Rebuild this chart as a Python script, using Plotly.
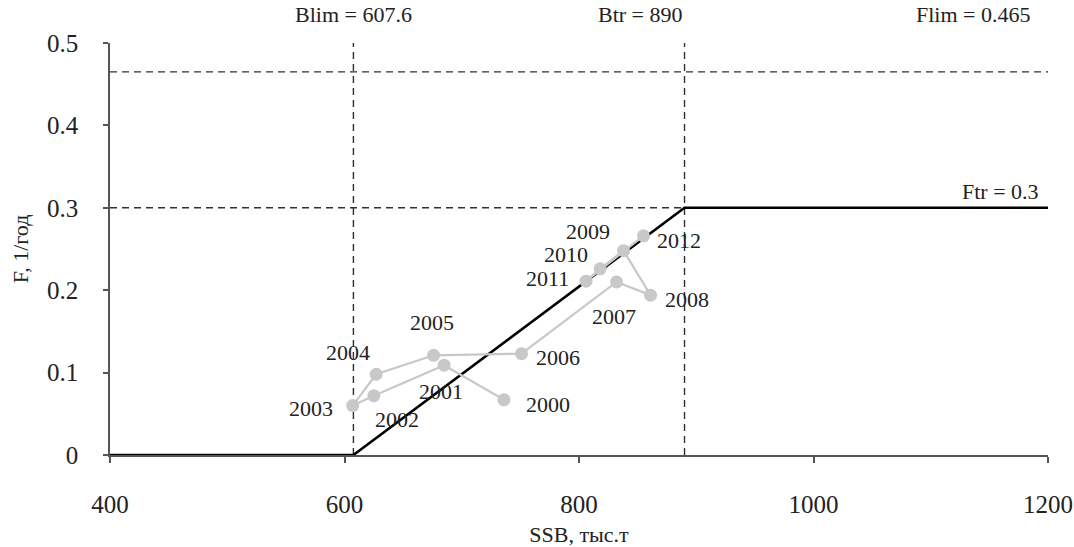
import plotly.graph_objects as go

# Stock dynamics: spawning stock biomass vs fishing mortality
years = [2000, 2001, 2002, 2003, 2004, 2005, 2006, 2007, 2008, 2009, 2010, 2011, 2012]
ssb = [736, 685, 625, 607, 627, 676, 751, 832, 861, 838, 818, 806, 855]
f_mort = [0.067, 0.109, 0.072, 0.060, 0.098, 0.121, 0.123, 0.210, 0.194, 0.248, 0.226, 0.211, 0.266]

# Reference points
b_lim = 607.6
b_tr = 890
f_lim = 0.465
f_tr = 0.3

# Harvest control rule
hcr_x = [400, b_lim, b_tr, 1200]
hcr_y = [0, 0, f_tr, f_tr]

x_ticks = [400, 600, 800, 1000, 1200]
y_ticks = [0, 0.1, 0.2, 0.3, 0.4, 0.5]

# Label placement around each year marker (pixels, x right / y up)
label_offsets = {
    2000: (44, -5), 2001: (-3, -26), 2002: (23, -24), 2003: (-42, -3),
    2004: (-28, 22), 2005: (-2, 33), 2006: (36, -4), 2007: (-3, -35),
    2008: (36, -4), 2009: (-36, 19), 2010: (-34, 14), 2011: (-39, 3),
    2012: (36, -5),
}

SERIF = "Liberation Serif"
DASH_COLOR = "#303030"
DASH = "7px,5px"

fig = go.Figure()

# Dashed reference lines
for xs, ys in [([400, 1200], [f_lim, f_lim]), ([400, b_tr], [f_tr, f_tr]),
               ([b_lim, b_lim], [0, 0.5]), ([b_tr, b_tr], [0, 0.5])]:
    fig.add_trace(go.Scatter(x=xs, y=ys, mode="lines",
                             line=dict(color=DASH_COLOR, width=1.4, dash=DASH),
                             hoverinfo="skip", showlegend=False))

# Control rule
fig.add_trace(go.Scatter(x=hcr_x, y=hcr_y, mode="lines",
                         line=dict(color="black", width=2.6),
                         hoverinfo="skip", showlegend=False))

# Stock trajectory
fig.add_trace(go.Scatter(x=ssb, y=f_mort, mode="lines+markers",
                         line=dict(color="#c8c8c8", width=2.2),
                         marker=dict(color="#c8c8c8", size=13),
                         showlegend=False))

annotations = []
for yr, xv, yv in zip(years, ssb, f_mort):
    dx, dy = label_offsets[yr]
    annotations.append(dict(x=xv, y=yv, xref="x", yref="y", text=str(yr),
                            showarrow=False, xshift=dx, yshift=dy,
                            font=dict(family=SERIF, size=22, color="#222")))

ref_font = dict(family=SERIF, size=22, color="#222")
annotations += [
    dict(x=b_lim, y=1, xref="x", yref="paper", yshift=29, text=f"Blim = {b_lim}",
         showarrow=False, xanchor="center", yanchor="middle", font=ref_font),
    dict(x=b_tr, y=1, xref="x", yref="paper", yshift=29, text=f"Btr = {b_tr}",
         showarrow=False, xanchor="right", yanchor="middle", font=ref_font),
    dict(x=1, y=1, xref="paper", yref="paper", xshift=-16, yshift=29, text=f"Flim = {f_lim}",
         showarrow=False, xanchor="right", yanchor="middle", font=ref_font),
    dict(x=1, y=0.32, xref="paper", yref="y", xshift=-7, text=f"Ftr = {f_tr}",
         showarrow=False, xanchor="right", yanchor="middle", font=ref_font),
]

fig.update_layout(
    width=1074, height=547,
    margin=dict(l=110, r=26, t=43, b=92),
    paper_bgcolor="white", plot_bgcolor="white",
    font=dict(family=SERIF, color="#222"),
    annotations=annotations,
    showlegend=False,
)

fig.update_xaxes(
    range=[400, 1200], tickvals=x_ticks, ticktext=[str(v) for v in x_ticks],
    showgrid=False, zeroline=False, showline=True, linecolor="#555", linewidth=1.5,
    ticks="outside", ticklen=6, tickcolor="#555", tickwidth=1.5, automargin=False,
    tickfont=dict(family=SERIF, size=25, color="#222"), ticklabelstandoff=20,
    title=dict(text="SSB, тыс.т", font=dict(family=SERIF, size=22, color="#222"), standoff=10),
)
fig.update_yaxes(
    range=[0, 0.5], tickvals=y_ticks, ticktext=["0", "0.1", "0.2", "0.3", "0.4", "0.5"],
    showgrid=False, zeroline=False, showline=True, linecolor="#555", linewidth=1.5,
    ticks="outside", ticklen=5, tickcolor="#555", tickwidth=1.5, automargin=False,
    tickfont=dict(family=SERIF, size=25, color="#222"), ticklabelstandoff=20,
    title=dict(text="F, 1/год", font=dict(family=SERIF, size=22, color="#222"), standoff=12),
)

fig.write_html("out.html")
